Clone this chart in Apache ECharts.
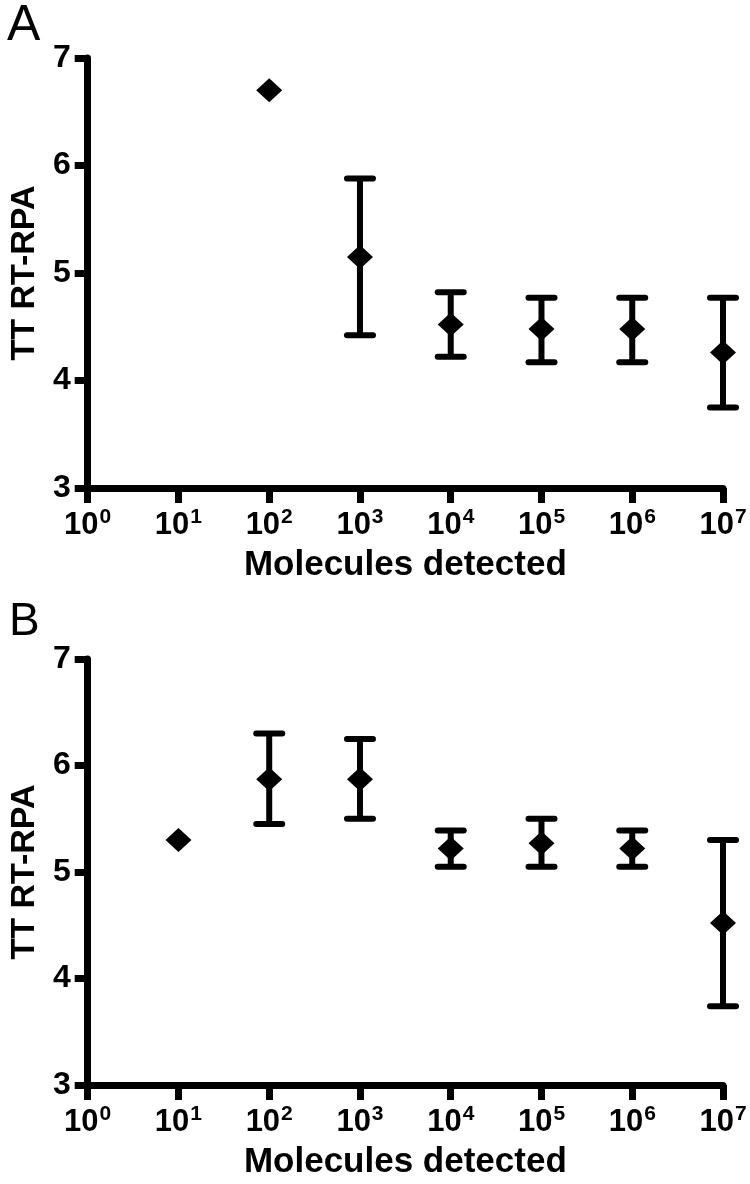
<!DOCTYPE html>
<html>
<head>
<meta charset="utf-8">
<script src="https://cdn.jsdelivr.net/npm/echarts@6/dist/echarts.min.js"></script>
<style>
html,body{margin:0;padding:0;background:#fff;}
#c{width:750px;height:1184px;}
</style>
</head>
<body>
<div id="c"></div>
<script>
// ---- data (x = exponent of 10 for "Molecules detected") ----
const xTickExponents = [0, 1, 2, 3, 4, 5, 6, 7];
const yTicks = [3, 4, 5, 6, 7];

const expA   = [2, 3, 4, 5, 6, 7];
const meanA  = [6.70, 5.15, 4.52, 4.48, 4.48, 4.26];
const upperA = [null, 5.88, 4.82, 4.77, 4.77, 4.77];
const lowerA = [null, 4.42, 4.22, 4.17, 4.17, 3.75];

const expB   = [1, 2, 3, 4, 5, 6, 7];
const meanB  = [5.30, 5.87, 5.87, 5.22, 5.27, 5.22, 4.52];
const upperB = [null, 6.30, 6.25, 5.39, 5.50, 5.39, 5.30];
const lowerB = [null, 5.45, 5.50, 5.05, 5.05, 5.05, 3.74];

const FONT = '"Liberation Sans", Arial, Helvetica, sans-serif';

function pts(ex, m) { return ex.map((e, i) => [e, m[i]]); }
function bars(ex, lo, hi) {
  const out = [];
  ex.forEach((e, i) => { if (lo[i] != null && hi[i] != null) out.push([e, lo[i], hi[i]]); });
  return out;
}

function xAxisDef(gi) {
  return {
    gridIndex: gi, type: 'value', min: 0, max: 7, interval: 1,
    name: 'Molecules detected', nameLocation: 'middle', nameGap: 60,
    nameTextStyle: { fontFamily: FONT, fontWeight: 'bold', fontSize: 35, color: '#000' },
    axisLine: { show: true, lineStyle: { color: '#000', width: 7 } },
    axisTick: { show: true, length: 15, lineStyle: { color: '#000', width: 7 } },
    splitLine: { show: false },
    axisLabel: {
      margin: 19,
      formatter: v => '{b|10}{s|' + v + '}',
      rich: {
        b: { fontFamily: FONT, fontWeight: 'bold', fontSize: 31, color: '#000' },
        s: { fontFamily: FONT, fontWeight: 'bold', fontSize: 21, color: '#000', padding: [0, 0, 15, 1] }
      }
    }
  };
}
function yAxisDef(gi) {
  return {
    gridIndex: gi, type: 'value', min: 3, max: 7, interval: 1,
    name: 'TT RT-RPA', nameLocation: 'middle', nameGap: 44,
    nameTextStyle: { fontFamily: FONT, fontWeight: 'bold', fontSize: 34, color: '#000' },
    axisLine: { show: true, lineStyle: { color: '#000', width: 7 } },
    axisTick: { show: true, length: 13, lineStyle: { color: '#000', width: 7 } },
    splitLine: { show: false },
    axisLabel: { margin: 17, fontFamily: FONT, fontWeight: 'bold', fontSize: 32, color: '#000' }
  };
}

function errSeries(idx, data) {
  return {
    type: 'custom', xAxisIndex: idx, yAxisIndex: idx, z: 2,
    data: data,
    renderItem: function (params, api) {
      const x = api.value(0);
      const top = api.coord([x, api.value(2)]);
      const bot = api.coord([x, api.value(1)]);
      const hw = 13;
      const st = { stroke: '#000', lineWidth: 6, lineCap: 'round' };
      return {
        type: 'group',
        children: [
          { type: 'line', shape: { x1: top[0], y1: top[1], x2: bot[0], y2: bot[1] }, style: Object.assign({}, st, { lineCap: 'butt' }) },
          { type: 'line', shape: { x1: top[0] - hw, y1: top[1], x2: top[0] + hw, y2: top[1] }, style: st },
          { type: 'line', shape: { x1: bot[0] - hw, y1: bot[1], x2: bot[0] + hw, y2: bot[1] }, style: st }
        ]
      };
    }
  };
}
function ptSeries(idx, data) {
  return {
    type: 'scatter', xAxisIndex: idx, yAxisIndex: idx, z: 3,
    symbol: 'diamond', symbolSize: [26, 24],
    itemStyle: { color: '#000', opacity: 1 },
    data: data
  };
}

const chart = echarts.init(document.getElementById('c'), null, { renderer: 'canvas' });
chart.setOption({
  backgroundColor: '#fff',
  animation: false,
  title: [
    { text: 'A', left: 2, top: -4, textStyle: { fontFamily: FONT, fontWeight: 'normal', fontSize: 50, color: '#000' } },
    { text: 'B', left: 4, top: 594, textStyle: { fontFamily: FONT, fontWeight: 'normal', fontSize: 46, color: '#000' } }
  ],
  grid: [
    { left: 83, top: 58, width: 640, height: 430 },
    { left: 83, top: 659, width: 640, height: 426 }
  ],
  xAxis: [xAxisDef(0), xAxisDef(1)],
  yAxis: [yAxisDef(0), yAxisDef(1)],
  series: [
    errSeries(0, bars(expA, lowerA, upperA)),
    ptSeries(0, pts(expA, meanA)),
    errSeries(1, bars(expB, lowerB, upperB)),
    ptSeries(1, pts(expB, meanB))
  ]
});
</script>
</body>
</html>
